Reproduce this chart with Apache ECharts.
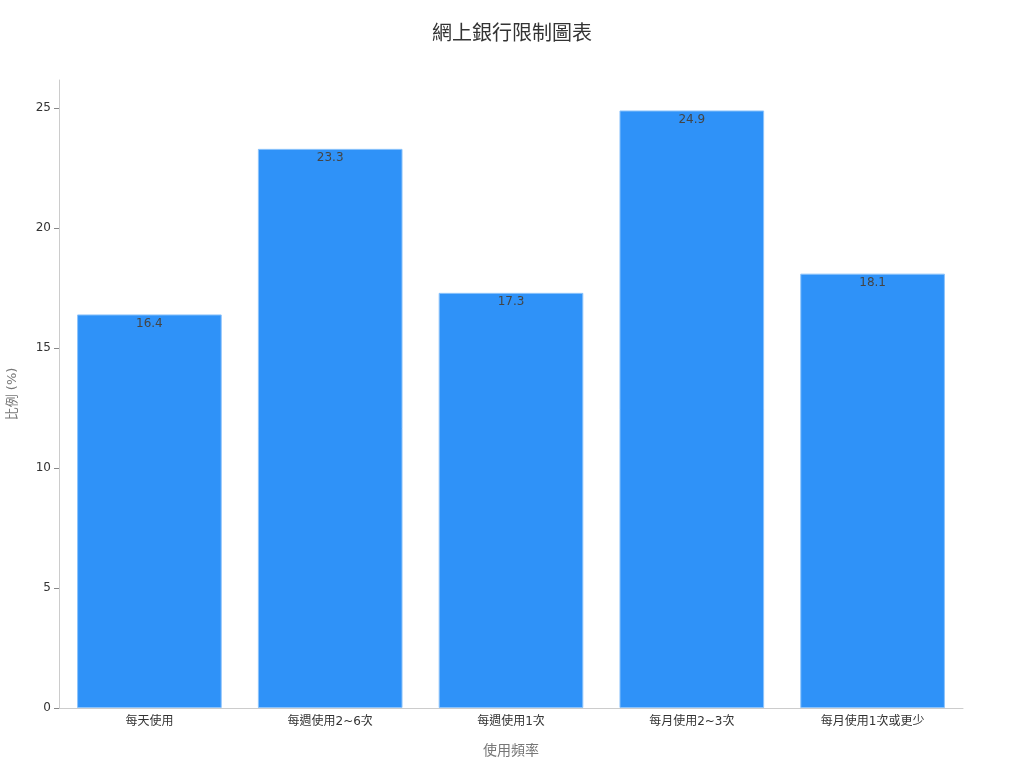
<!DOCTYPE html>
<html>
<head>
<meta charset="utf-8">
<script src="https://cdn.jsdelivr.net/npm/echarts@6/dist/echarts.min.js"></script>
<style>
  html, body { margin: 0; padding: 0; background: #fff; }
  #container { width: 1024px; height: 768px; }
</style>
</head>
<body>
<div id="container"></div>
<script>
// usage frequency categories and share (%)
var categories = ['每天使用', '每週使用2~6次', '每週使用1次', '每月使用2~3次', '每月使用1次或更少'];
var shares = [16.4, 23.3, 17.3, 24.9, 18.1];

var dom = document.getElementById('container');
var myChart = echarts.init(dom);

var option = {
    backgroundColor: '#ffffff',
    textStyle: {
        fontFamily: '"DejaVu Sans", "Noto Sans CJK TC", sans-serif'
    },
    title: {
        text: '網上銀行限制圖表',
        left: 'center',
        top: 20,
        textStyle: {
            fontSize: 20,
            fontWeight: 'normal',
            color: '#333'
        }
    },
    grid: {
        left: 59,
        right: 61,
        top: 80,
        bottom: 60,
        outerBoundsMode: 'none'
    },
    xAxis: {
        type: 'category',
        data: categories,
        name: '使用頻率',
        nameLocation: 'middle',
        nameGap: 36,
        nameTextStyle: { color: '#777', fontSize: 14 },
        axisLine: { lineStyle: { color: '#ccc' } },
        axisTick: { alignWithLabel: true, length: 5, lineStyle: { color: '#888' } },
        axisLabel: { color: '#333', fontSize: 12, margin: 8 }
    },
    yAxis: {
        type: 'value',
        min: 0,
        max: 26.17,
        interval: 5,
        name: '比例 (%)',
        nameLocation: 'middle',
        nameGap: 40,
        nameTextStyle: { color: '#777', fontSize: 13 },
        axisLine: { show: true, lineStyle: { color: '#ccc' } },
        axisTick: { show: true, length: 5, lineStyle: { color: '#888' } },
        axisLabel: { color: '#333', fontSize: 12, showMaxLabel: false },
        splitLine: { show: false }
    },
    series: [{
        type: 'bar',
        data: shares,
        barWidth: '80%',
        itemStyle: {
            color: '#2F92F8',
            borderColor: '#8CC3FB',
            borderWidth: 1
        },
        label: {
            show: true,
            position: 'insideTop',
            distance: 3,
            color: '#444',
            fontSize: 12
        }
    }]
};

if (option && typeof option === 'object') {
    myChart.setOption(option, true);
}
</script>
</body>
</html>
